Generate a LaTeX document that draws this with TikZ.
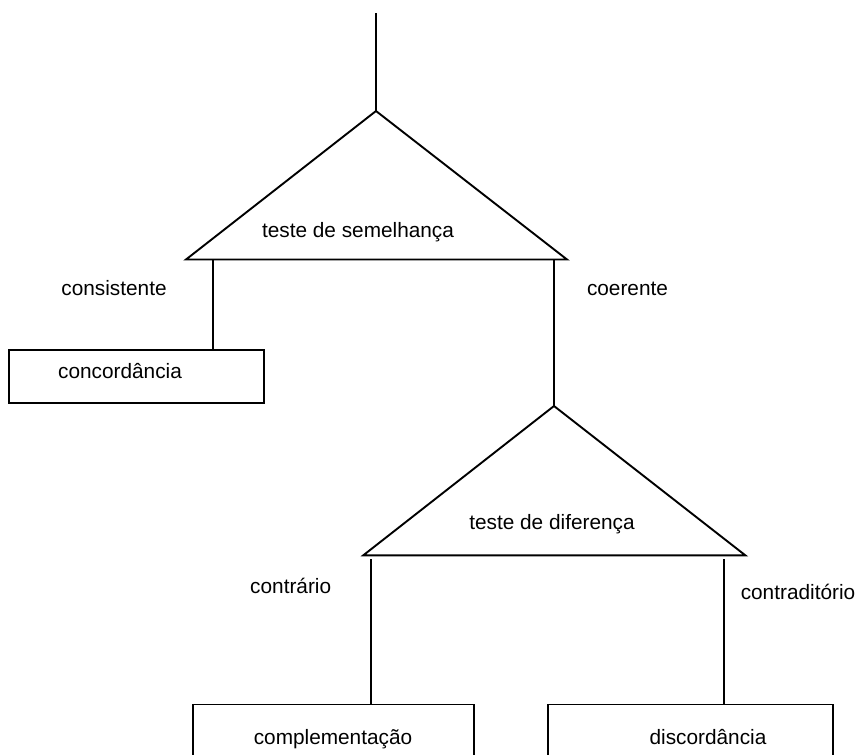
\documentclass[tikz,border=0pt]{standalone}
\usepackage{fontspec}
\setmainfont{Liberation Sans}
\begin{document}
\begin{tikzpicture}[x=1pt,y=-1pt,line width=1.9pt,
  lbl/.style={anchor=base,inner sep=0pt,font=\fontsize{20.8pt}{24pt}\selectfont},
  boxnode/.style={draw,rectangle,inner sep=0pt}]
\useasboundingbox (0,0) rectangle (857,755);
\clip (0,0) rectangle (857,755);
% first test
\coordinate (top) at (376,13);
\coordinate (apexA) at (376,111);
\coordinate (blA) at (186,259.5);
\coordinate (brA) at (567,259.5);
\draw (top) -- (apexA);
\draw[line join=miter] (apexA) -- (blA) -- (brA) -- cycle;
\node[lbl] (tsem) at (358,237.3) {teste de semelhança};
% left branch
\coordinate (dA) at (213.3,259.5);
\node[boxnode,minimum width=254.7pt,minimum height=52.7pt] (conc) at (136.7,376.4) {};
\node[lbl] (conctxt) at (120,378.3) {concordância};
\draw (dA) -- (dA |- conc.north);
\node[lbl] (cons) at (114,295) {consistente};
% right branch
\coordinate (dB) at (554,259.5);
\coordinate (apexB) at (554,406);
\draw (dB) -- (apexB);
\node[lbl] (coer) at (627.5,295) {coerente};
% second test
\coordinate (blB) at (363.3,555.3);
\coordinate (brB) at (745.3,555.3);
\draw[line join=miter] (apexB) -- (blB) -- (brB) -- cycle;
\node[lbl] (tdif) at (552,529.3) {teste de diferença};
% bottom boxes
\node[boxnode,minimum width=281.3pt,minimum height=95pt] (comp) at (333.35,752) {};
\node[boxnode,minimum width=285pt,minimum height=95pt] (disc) at (690.8,752) {};
\node[lbl] (comptxt) at (333,744.3) {complementação};
\node[lbl] (disctxt) at (708,744.3) {discordância};
\coordinate (dC) at (370.7,559);
\coordinate (dD) at (724.3,559);
\draw (dC) -- (dC |- comp.north);
\draw (dD) -- (dD |- disc.north);
\node[lbl] (contr) at (290.7,593.3) {contrário};
\node[lbl] (contrad) at (798,599) {contraditório};
\end{tikzpicture}
\end{document}
